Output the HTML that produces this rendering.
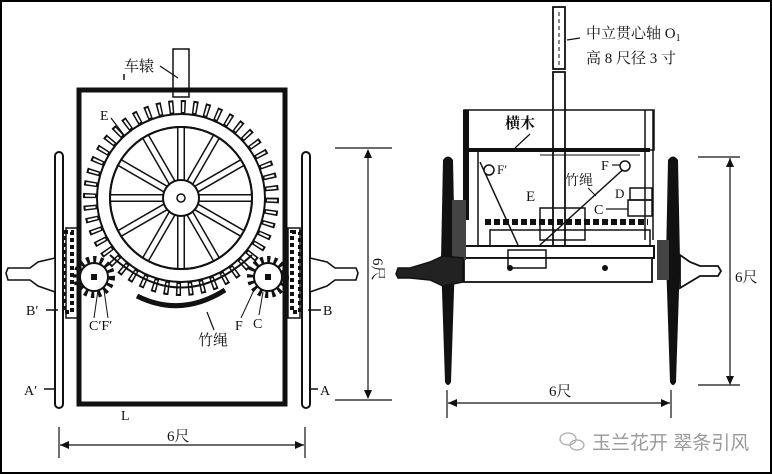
<!DOCTYPE html>
<html><head><meta charset="utf-8"><style>
html,body{margin:0;padding:0;background:#fff}
svg{display:block}
text{font-family:"Liberation Serif","Noto Serif CJK SC","Noto Sans CJK SC",serif;fill:#111}
</style></head><body>
<svg width="772" height="474" viewBox="0 0 772 474" xmlns="http://www.w3.org/2000/svg">
<rect x="1" y="1" width="770" height="472" fill="#fff" stroke="#000" stroke-width="2"/>

<!-- ===== LEFT VIEW ===== -->
<!-- shaft -->
<rect x="173" y="49" width="16" height="48" fill="#fff" stroke="#111" stroke-width="1.5"/>
<!-- frame -->
<rect x="79" y="90" width="206" height="314" fill="none" stroke="#111" stroke-width="5"/>
<!-- wheels -->
<rect x="55" y="152" width="8" height="256" rx="4" fill="#fff" stroke="#111" stroke-width="2"/>
<rect x="302" y="152" width="8" height="256" rx="4" fill="#fff" stroke="#111" stroke-width="2"/>
<!-- side gears near wheels -->
<rect x="66" y="228" width="12" height="90" fill="none" stroke="#111" stroke-width="1.5"/>
<circle cx="72" cy="273" r="30" fill="none" stroke="#111" stroke-width="6" stroke-dasharray="3 3" transform="scale(1)" opacity="0"/>
<rect x="64" y="232" width="8" height="80" fill="none" stroke="#111" stroke-width="4" stroke-dasharray="4 3"/>
<rect x="288" y="228" width="12" height="90" fill="none" stroke="#111" stroke-width="1.5"/>
<rect x="292" y="232" width="8" height="80" fill="none" stroke="#111" stroke-width="4" stroke-dasharray="4 3"/>
<!-- hubs -->
<path d="M55 258 L38 262 L30 268 L8 268 L6 273 L8 280 L30 280 L38 286 L55 292 Z" fill="#fff" stroke="#111" stroke-width="1.6"/>
<path d="M310 258 L327 262 L335 268 L356 268 L358 273 L356 280 L335 280 L327 286 L310 292 Z" fill="#fff" stroke="#111" stroke-width="1.6"/>
<!-- big gear teeth -->
<circle cx="181" cy="198" r="91" fill="none" stroke="#111" stroke-width="14" stroke-dasharray="5 6.9"/>
<circle cx="181" cy="198" r="91" fill="none" stroke="#fff" stroke-width="10" stroke-dasharray="2 9.9" stroke-dashoffset="-1.5"/>
<circle cx="181" cy="198" r="84" fill="#fff" stroke="#111" stroke-width="2"/>
<circle cx="181" cy="198" r="71" fill="#fff" stroke="#111" stroke-width="2"/>
<!-- spokes -->
<g stroke="#111" stroke-width="8">
<line x1="110" y1="198" x2="252" y2="198"/>
<line x1="181" y1="127" x2="181" y2="269"/>
<line x1="145.5" y1="136.5" x2="216.5" y2="259.5"/>
<line x1="216.5" y1="136.5" x2="145.5" y2="259.5"/>
<line x1="119.5" y1="162.5" x2="242.5" y2="233.5"/>
<line x1="119.5" y1="233.5" x2="242.5" y2="162.5"/>
</g>
<g stroke="#fff" stroke-width="5">
<line x1="110" y1="198" x2="252" y2="198"/>
<line x1="181" y1="127" x2="181" y2="269"/>
<line x1="145.5" y1="136.5" x2="216.5" y2="259.5"/>
<line x1="216.5" y1="136.5" x2="145.5" y2="259.5"/>
<line x1="119.5" y1="162.5" x2="242.5" y2="233.5"/>
<line x1="119.5" y1="233.5" x2="242.5" y2="162.5"/>
</g>
<circle cx="181" cy="198" r="71" fill="none" stroke="#111" stroke-width="2"/>
<circle cx="181" cy="198" r="18" fill="#fff" stroke="#111" stroke-width="2"/>
<circle cx="181" cy="198" r="4" fill="#fff" stroke="#111" stroke-width="1.5"/>
<!-- small gears -->
<circle cx="94" cy="277" r="17" fill="none" stroke="#111" stroke-width="8" stroke-dasharray="3 3.6"/>
<circle cx="94" cy="277" r="14" fill="#fff" stroke="#111" stroke-width="2"/>
<rect x="91" y="274" width="6" height="6" fill="#111"/>
<circle cx="268" cy="277" r="17" fill="none" stroke="#111" stroke-width="8" stroke-dasharray="3 3.6"/>
<circle cx="268" cy="277" r="14" fill="#fff" stroke="#111" stroke-width="2"/>
<rect x="265" y="274" width="6" height="6" fill="#111"/>
<!-- rope arc -->
<path d="M110 255 Q181 320 252 255" fill="none" stroke="#111" stroke-width="2"/>
<path d="M137 296 Q181 318 225 290" fill="none" stroke="#111" stroke-width="5"/>
<!-- left labels -->
<text x="124" y="71" font-size="15">车辕</text>
<path d="M124 80 L124 74" stroke="#111" stroke-width="1.5"/>
<line x1="160" y1="66" x2="178" y2="78" stroke="#111" stroke-width="1.2"/>
<text x="100" y="120" font-size="14">E</text>
<line x1="111" y1="118" x2="124" y2="135" stroke="#111" stroke-width="1.2"/>
<text x="26" y="315" font-size="14">B′</text>
<line x1="46" y1="310" x2="58" y2="310" stroke="#111" stroke-width="1.5"/>
<text x="89" y="330" font-size="14">C′F′</text>
<line x1="94" y1="318" x2="98" y2="290" stroke="#111" stroke-width="1"/>
<line x1="108" y1="318" x2="104" y2="290" stroke="#111" stroke-width="1"/>
<text x="198" y="345" font-size="15">竹绳</text>
<line x1="214" y1="330" x2="207" y2="312" stroke="#111" stroke-width="1.2"/>
<text x="235" y="330" font-size="14">F</text>
<text x="253" y="328" font-size="14">C</text>
<line x1="241" y1="318" x2="254" y2="290" stroke="#111" stroke-width="1"/>
<line x1="259" y1="315" x2="263" y2="292" stroke="#111" stroke-width="1"/>
<text x="323" y="315" font-size="14">B</text>
<line x1="308" y1="310" x2="321" y2="310" stroke="#111" stroke-width="1.5"/>
<text x="24" y="395" font-size="14">A′</text>
<line x1="44" y1="389" x2="56" y2="389" stroke="#111" stroke-width="1.5"/>
<text x="320" y="395" font-size="14">A</text>
<line x1="309" y1="389" x2="318" y2="389" stroke="#111" stroke-width="1.5"/>
<text x="121" y="420" font-size="14">L</text>
<!-- left dims -->
<line x1="335" y1="148" x2="392" y2="148" stroke="#111" stroke-width="1.2"/>
<line x1="335" y1="400" x2="392" y2="400" stroke="#111" stroke-width="1.2"/>
<line x1="368" y1="150" x2="368" y2="398" stroke="#111" stroke-width="1.2"/>
<path d="M364 158 L368 149 L372 158 Z M364 390 L368 399 L372 390 Z" fill="#111"/>
<text x="0" y="0" font-size="15" transform="translate(373,258) rotate(90)">6尺</text>
<line x1="59" y1="427" x2="59" y2="458" stroke="#111" stroke-width="1.2"/>
<line x1="305" y1="427" x2="305" y2="458" stroke="#111" stroke-width="1.2"/>
<line x1="60" y1="445" x2="304" y2="445" stroke="#111" stroke-width="1.2"/>
<path d="M69 441 L60 445 L69 449 Z M295 441 L304 445 L295 449 Z" fill="#111"/>
<text x="167" y="441" font-size="15">6尺</text>

<!-- ===== RIGHT VIEW ===== -->
<!-- pole -->
<rect x="553" y="7" width="12" height="62" fill="#fff" stroke="#111" stroke-width="1.8"/>
<rect x="553" y="72" width="12" height="190" fill="#fff" stroke="#111" stroke-width="1.8"/>
<line x1="559" y1="12" x2="559" y2="66" stroke="#111" stroke-width="1" stroke-dasharray="4 3"/>
<line x1="567" y1="40" x2="580" y2="38" stroke="#111" stroke-width="1.2"/>
<text x="586" y="38" font-size="15">中立贯心轴 O<tspan font-size="10" dy="3">1</tspan></text>
<text x="586" y="63" font-size="15">高 8 尺径 3 寸</text>
<!-- top box -->
<rect x="464" y="110" width="190" height="40" fill="none" stroke="#111" stroke-width="1.5"/>
<rect x="463" y="110" width="6" height="110" fill="#111"/>
<line x1="463" y1="150" x2="650" y2="150" stroke="#111" stroke-width="4"/>
<line x1="645" y1="110" x2="645" y2="240" stroke="#111" stroke-width="1.5"/>
<line x1="653" y1="110" x2="653" y2="240" stroke="#111" stroke-width="1.5"/>
<line x1="478" y1="152" x2="478" y2="245" stroke="#111" stroke-width="1.5"/>
<line x1="540" y1="155" x2="640" y2="155" stroke="#111" stroke-width="1"/>
<text x="505" y="128" font-size="15" font-weight="bold">横木</text>
<line x1="530" y1="134" x2="515" y2="148" stroke="#111" stroke-width="1.2"/>
<!-- mechanism -->
<rect x="540" y="208" width="45" height="32" fill="none" stroke="#111" stroke-width="1.5"/>
<line x1="485" y1="222" x2="648" y2="222" stroke="#111" stroke-width="6" stroke-dasharray="6 3"/>
<rect x="490" y="230" width="160" height="16" fill="none" stroke="#111" stroke-width="1.5"/>
<rect x="630" y="188" width="22" height="12" fill="none" stroke="#111" stroke-width="1.5"/>
<rect x="628" y="200" width="24" height="16" fill="none" stroke="#111" stroke-width="1.5"/>
<line x1="480" y1="162" x2="518" y2="245" stroke="#111" stroke-width="1.5"/>
<line x1="628" y1="165" x2="540" y2="245" stroke="#111" stroke-width="1.5"/>
<circle cx="489" cy="170" r="5" fill="#fff" stroke="#111" stroke-width="1.5"/>
<circle cx="625" cy="166" r="5" fill="#fff" stroke="#111" stroke-width="1.5"/>
<text x="497" y="174" font-size="13">F′</text>
<text x="526" y="201" font-size="15">E</text>
<text x="565" y="185" font-size="14">竹绳</text>
<line x1="588" y1="188" x2="596" y2="196" stroke="#111" stroke-width="1"/>
<text x="601" y="170" font-size="14">F</text>
<line x1="612" y1="165" x2="620" y2="165" stroke="#111" stroke-width="1.2"/>
<text x="615" y="198" font-size="13">D</text>
<text x="594" y="214" font-size="14">C</text>
<line x1="606" y1="209" x2="628" y2="209" stroke="#111" stroke-width="1.2"/>
<!-- axle -->
<rect x="464" y="246" width="190" height="12" fill="#fff" stroke="#111" stroke-width="2"/>
<rect x="464" y="258" width="188" height="24" fill="#fff" stroke="#111" stroke-width="1.8"/>
<rect x="508" y="250" width="38" height="18" fill="none" stroke="#111" stroke-width="1.5"/>
<circle cx="510" cy="268" r="3" fill="#111"/><circle cx="605" cy="268" r="3" fill="#111"/>
<!-- wheels -->
<path d="M443 160 Q448 153 453 160 L455 260 L451 382 Q448 388 445 382 L441 260 Z" fill="#111"/>
<path d="M668 160 Q673 153 678 160 L680 260 L676 382 Q673 388 670 382 L666 260 Z" fill="#111"/>
<rect x="452" y="200" width="14" height="60" fill="#444"/>
<rect x="657" y="240" width="12" height="40" fill="#444"/>
<!-- hubs -->
<path d="M463 258 L443 256 L430 262 L410 268 L398 268 L396 274 L398 278 L410 278 L430 280 L443 286 L463 282 Z" fill="#222" stroke="#111" stroke-width="1.5"/>
<path d="M680 255 L690 262 L700 266 L718 266 L721 271 L718 276 L700 276 L690 282 L680 288 Z" fill="#fff" stroke="#111" stroke-width="1.8"/>
<!-- dims -->
<line x1="698" y1="157" x2="740" y2="157" stroke="#111" stroke-width="1.2"/>
<line x1="698" y1="385" x2="740" y2="385" stroke="#111" stroke-width="1.2"/>
<line x1="730" y1="158" x2="730" y2="384" stroke="#111" stroke-width="1.2"/>
<path d="M726 167 L730 158 L734 167 Z M726 376 L730 385 L734 376 Z" fill="#111"/>
<text x="735" y="282" font-size="15">6尺</text>
<line x1="447" y1="390" x2="447" y2="418" stroke="#111" stroke-width="1.2"/>
<line x1="671" y1="390" x2="671" y2="418" stroke="#111" stroke-width="1.2"/>
<line x1="448" y1="403" x2="670" y2="403" stroke="#111" stroke-width="1.2"/>
<path d="M457 399 L448 403 L457 407 Z M661 399 L670 403 L661 407 Z" fill="#111"/>
<text x="549" y="396" font-size="15">6尺</text>
<!-- watermark -->
<g fill="none" stroke="#aaa" stroke-width="1.2">
<ellipse cx="568" cy="439" rx="8" ry="6"/><ellipse cx="577" cy="445" rx="7" ry="5"/>
</g>
<text x="592" y="449" font-size="19" style="font-family:'Liberation Sans','Noto Sans CJK SC',sans-serif;fill:#999">玉兰花开 翠条引风</text>
</svg>
</body></html>
